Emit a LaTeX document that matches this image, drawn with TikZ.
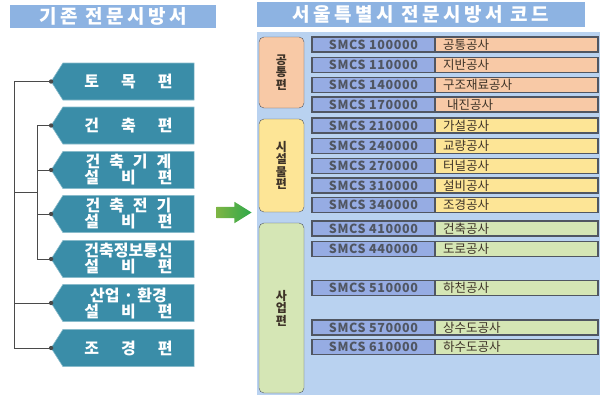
\documentclass[tikz,border=0pt]{standalone}
\usepackage{fontspec}
\setmainfont{Noto Sans CJK KR}
\usepackage{tikz}
\usetikzlibrary{positioning,shapes.symbols,shapes.arrows}
\definecolor{hdrblue}{HTML}{8DB3E2}
\definecolor{partteal}{HTML}{3A8DA8}
\definecolor{wiregray}{HTML}{4A4A4A}
\definecolor{panelblue}{HTML}{B9D2F0}
\definecolor{codeblue}{HTML}{96ACE3}
\definecolor{edgegray}{HTML}{505662}
\definecolor{salm}{HTML}{F8C9A6}
\definecolor{yel}{HTML}{FDE596}
\definecolor{grn}{HTML}{D5E6B5}
\definecolor{inkbrown}{HTML}{3E3328}
\definecolor{arrowolive}{HTML}{7DB544}
\definecolor{arrowgreen}{HTML}{2FA84A}

\begin{document}
\begin{tikzpicture}[x=1pt, y=-1pt]
        \tikzstyle{every node}=[inner sep=0pt, outer sep=0pt]
        \tikzstyle{hdr}=[fill=hdrblue, text=white, font=\fontsize{19}{19}\selectfont\bfseries\addfontfeatures{LetterSpace=18}]
        \tikzstyle{part}=[signal, signal to=west, signal pointer angle=115, fill=partteal, draw=partteal!60!white, line width=0.6pt, text=white, minimum width=143pt, minimum height=37pt, align=center, font=\fontsize{16}{16}\selectfont\bfseries]
        \tikzstyle{wire}=[draw=wiregray, line width=1pt]
        \tikzstyle{grp}=[draw=edgegray, rounded corners=5pt, minimum width=45pt, align=center, text=inkbrown, font=\fontsize{12}{12.5}\selectfont\bfseries]
        \tikzstyle{smcs}=[draw=edgegray, line width=1.2pt, fill=codeblue, minimum width=123pt, minimum height=15pt, text=edgegray, font=\fontsize{12.5}{12.5}\selectfont\bfseries\addfontfeatures{LetterSpace=5}]
        \tikzstyle{work}=[draw=edgegray, line width=1.2pt, minimum height=15pt, text width=147pt, inner xsep=8pt, align=left, text=inkbrown, font=\fontsize{12.5}{12.5}\selectfont]
        \useasboundingbox (0,0) rectangle (600,400);
        % left: existing specs
        \node [hdr, minimum width=206pt, minimum height=23pt] (oldhdr) at (113,16.5) {기존 전문시방서};
        \node [part] (b1) at (128.5,81.5) {토\hspace{22pt}목\hspace{22pt}편};
        \node [part] (b2) at (128.5,125.5) {건\hspace{22pt}축\hspace{22pt}편};
        \node [part] (b3) at (128.5,170) {건\hspace{9pt}축\hspace{9pt}기\hspace{9pt}계\\설\hspace{22pt}비\hspace{22pt}편};
        \node [part] (b4) at (128.5,214) {건\hspace{9pt}축\hspace{9pt}전\hspace{9pt}기\\설\hspace{22pt}비\hspace{22pt}편};
        \node [part] (b5) at (128.5,259) {건축정보통신\\설\hspace{22pt}비\hspace{22pt}편};
        \node [part] (b6) at (128.5,303) {산업\hspace{4pt}·\hspace{4pt}환경\\설\hspace{22pt}비\hspace{22pt}편};
        \node [part] (b7) at (128.5,348) {조\hspace{22pt}경\hspace{22pt}편};
        \coordinate (trunk) at (14,0);
        \coordinate (branch) at (37,0);
        \coordinate (join) at (37,192);
        \draw [wire] (b1.west) -- (b1.west -| trunk) -- (b7.west -| trunk) -- (b7.west);
        \draw [wire] (b6.west) -- (b6.west -| trunk);
        \draw [wire] (join) -- (join -| trunk);
        \draw [wire] (b2.west -| branch) -- (b5.west -| branch);
        \draw [wire] (b2.west) -- (b2.west -| branch);
        \draw [wire] (b3.west) -- (b3.west -| branch);
        \draw [wire] (b4.west) -- (b4.west -| branch);
        \draw [wire] (b5.west) -- (b5.west -| branch);
        \foreach \b in {b1,b2,b3,b4,b5,b6,b7} \fill [wiregray] (\b.west) circle (2.2pt);
        % arrow
        \node [single arrow, single arrow head extend=5pt, single arrow tip angle=64, minimum height=35pt, inner ysep=5.5pt, left color=arrowolive, right color=arrowgreen] (go) at (229.5,212.5) {};
        % right: SMCS codes
        \node [hdr, minimum width=328pt, minimum height=25pt] (newhdr) at (421,14.5) {서울특별시 전문시방서 코드};
        \node [fill=panelblue, minimum width=343pt, minimum height=363pt] (panel) at (428.5,213.5) {};
        \node [grp, fill=salm, minimum height=71pt] (g1) at (281.5,72.5) {공\\통\\편};
        \node [grp, fill=yel, minimum height=93pt] (g2) at (281.5,165.5) {시\\설\\물\\편};
        \node [grp, fill=grn, minimum height=170pt] (g3) at (281.5,308) {사\\업\\편};
        \node [smcs] (c1) at (373.5,44.5) {SMCS 100000}; \node [work, fill=salm, right=0pt of c1] (w1) {공통공사};
        \node [smcs] (c2) at (373.5,65) {SMCS 110000}; \node [work, fill=salm, right=0pt of c2] (w2) {지반공사};
        \node [smcs] (c3) at (373.5,85) {SMCS 140000}; \node [work, fill=salm, right=0pt of c3] (w3) {구조재료공사};
        \node [smcs] (c4) at (373.5,104.5) {SMCS 170000}; \node [work, fill=salm, right=0pt of c4] (w4) {\hspace{4pt}내진공사};
        \node [smcs] (c5) at (373.5,125.5) {SMCS 210000}; \node [work, fill=yel, right=0pt of c5] (w5) {가설공사};
        \node [smcs] (c6) at (373.5,146) {SMCS 240000}; \node [work, fill=yel, right=0pt of c6] (w6) {교량공사};
        \node [smcs] (c7) at (373.5,166) {SMCS 270000}; \node [work, fill=yel, right=0pt of c7] (w7) {터널공사};
        \node [smcs] (c8) at (373.5,185.5) {SMCS 310000}; \node [work, fill=yel, right=0pt of c8] (w8) {설비공사};
        \node [smcs] (c9) at (373.5,205) {SMCS 340000}; \node [work, fill=yel, right=0pt of c9] (w9) {조경공사};
        \node [smcs] (c10) at (373.5,228.5) {SMCS 410000}; \node [work, fill=grn, right=0pt of c10] (w10) {건축공사};
        \node [smcs] (c11) at (373.5,249) {SMCS 440000}; \node [work, fill=grn, right=0pt of c11] (w11) {도로공사};
        \node [smcs] (c12) at (373.5,288) {SMCS 510000}; \node [work, fill=grn, right=0pt of c12] (w12) {하천공사};
        \node [smcs] (c13) at (373.5,327.5) {SMCS 570000}; \node [work, fill=grn, right=0pt of c13] (w13) {상수도공사};
        \node [smcs] (c14) at (373.5,347) {SMCS 610000}; \node [work, fill=grn, right=0pt of c14] (w14) {하수도공사};
    \end{tikzpicture}
\end{document}
